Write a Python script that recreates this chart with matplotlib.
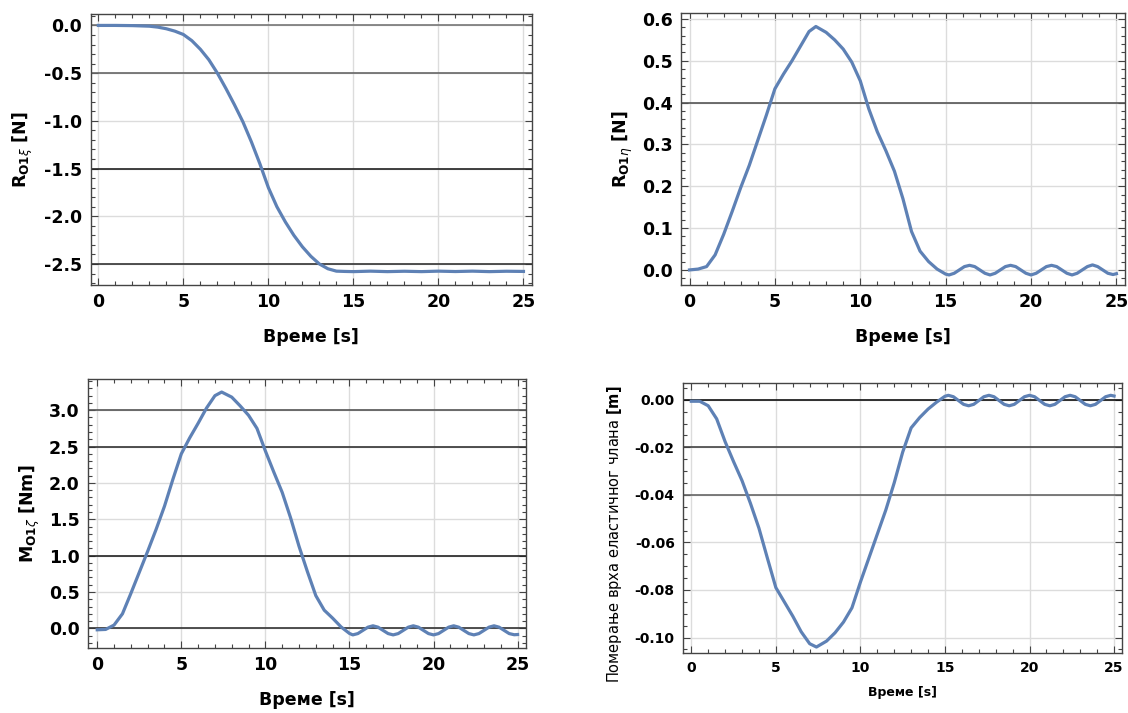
import matplotlib
matplotlib.use("Agg")
import matplotlib.pyplot as plt
from matplotlib.ticker import MultipleLocator

plt.rcParams["font.family"] = ["DejaVu Sans"]
plt.rcParams["mathtext.fontset"] = "dejavusans"

# Data
t_r_xi = [0, 1, 2, 3, 3.5, 4, 4.5, 5, 5.5, 6, 6.5, 7, 7.5, 8, 8.5, 9, 9.5, 10,
          10.5, 11, 11.5, 12, 12.5, 13, 13.5, 14, 14.5, 15, 16, 17, 18, 19, 20,
          21, 22, 23, 24, 25]
r_xi = [0, 0, -0.002, -0.008, -0.018, -0.035, -0.06, -0.095, -0.16, -0.25, -0.36,
        -0.5, -0.66, -0.83, -1.01, -1.22, -1.45, -1.7, -1.9, -2.06, -2.2, -2.32,
        -2.42, -2.5, -2.55, -2.575, -2.578, -2.58, -2.575, -2.58, -2.576, -2.58,
        -2.575, -2.579, -2.575, -2.58, -2.576, -2.578]

# common time grid for the late oscillations
t_osc = [15.2, 15.5, 15.8, 16.1, 16.4, 16.7, 17.0, 17.3, 17.6, 17.9, 18.2, 18.5,
         18.8, 19.1, 19.4, 19.7, 20.0, 20.3, 20.6, 20.9, 21.2, 21.5, 21.8, 22.1,
         22.4, 22.7, 23.0, 23.3, 23.6, 23.9, 24.2, 24.5, 24.8, 25.0]

t_head = [0, 0.5, 1, 1.5, 2, 2.5, 3, 3.5, 4, 4.5, 5, 5.5, 6, 6.5, 7, 7.4, 8, 8.5,
          9, 9.5, 10, 10.5, 11, 11.5, 12, 12.5, 13, 13.5, 14, 14.5, 15]

r_eta_head = [0, 0.002, 0.008, 0.036, 0.085, 0.14, 0.197, 0.25, 0.31, 0.37, 0.433,
              0.468, 0.5, 0.535, 0.57, 0.582, 0.568, 0.55, 0.528, 0.497, 0.452, 0.385,
              0.33, 0.285, 0.236, 0.17, 0.092, 0.045, 0.02, 0.002, -0.01]
r_eta_tail = [-0.012, -0.008, 0.0, 0.008, 0.011, 0.008, 0.0, -0.008, -0.012, -0.008,
              0.0, 0.008, 0.011, 0.008, 0.0, -0.008, -0.012, -0.008, 0.0, 0.008,
              0.011, 0.008, 0.0, -0.008, -0.012, -0.008, 0.0, 0.008, 0.012, 0.008,
              0.0, -0.008, -0.011, -0.009]

m_zeta_head = [-0.02, -0.015, 0.045, 0.2, 0.48, 0.77, 1.06, 1.36, 1.68, 2.05, 2.4,
               2.62, 2.82, 3.03, 3.2, 3.25, 3.18, 3.06, 2.93, 2.75, 2.44, 2.15, 1.87,
               1.52, 1.13, 0.78, 0.45, 0.25, 0.14, 0.02, -0.07]
m_zeta_tail = [-0.09, -0.072, -0.028, 0.016, 0.035, 0.016, -0.028, -0.072, -0.09,
               -0.072, -0.028, 0.016, 0.035, 0.016, -0.028, -0.072, -0.09, -0.072,
               -0.028, 0.016, 0.035, 0.016, -0.028, -0.072, -0.09, -0.072, -0.028,
               0.016, 0.035, 0.016, -0.028, -0.072, -0.088, -0.085]

disp_head = [-0.0006, -0.0006, -0.0025, -0.008, -0.0176, -0.026, -0.034, -0.0436,
             -0.054, -0.0666, -0.079, -0.085, -0.091, -0.0976, -0.1026, -0.104,
             -0.1015, -0.098, -0.0935, -0.0875, -0.0767, -0.0666, -0.0565, -0.0464,
             -0.0349, -0.022, -0.0118, -0.0075, -0.0039, -0.001, 0.0015]
disp_tail = [0.0019, 0.0013, -0.0003, -0.0019, -0.0025, -0.0019, -0.0003, 0.0013,
             0.0019, 0.0013, -0.0003, -0.0019, -0.0025, -0.0019, -0.0003, 0.0013,
             0.0019, 0.0013, -0.0003, -0.0019, -0.0025, -0.0019, -0.0003, 0.0013,
             0.0019, 0.0013, -0.0003, -0.0019, -0.0025, -0.0019, -0.0003, 0.0013,
             0.0019, 0.0016]

line_color = "#5E81B5"
frame_color = "#444444"
grid_color = "#DCDCDC"


def style_axes(ax, xlim, ylim, yticks, yminor, tick_size, fmt):
    ax.set_xlim(*xlim)
    ax.set_ylim(*ylim)
    ax.set_xticks([0, 5, 10, 15, 20, 25])
    ax.set_yticks(yticks)
    ax.set_yticklabels([fmt.format(v) for v in yticks])
    ax.xaxis.set_minor_locator(MultipleLocator(1))
    ax.yaxis.set_minor_locator(MultipleLocator(yminor))
    ax.tick_params(which="both", direction="in", top=True, right=True,
                   colors=frame_color, labelcolor="black", labelsize=tick_size,
                   width=0.8)
    ax.tick_params(which="major", length=5, pad=6)
    ax.tick_params(which="minor", length=3)
    for lab in ax.get_xticklabels() + ax.get_yticklabels():
        lab.set_fontweight("bold")
    for sp in ax.spines.values():
        sp.set_color(frame_color)
        sp.set_linewidth(1.0)
    ax.grid(True, which="major", color=grid_color, linewidth=1.0)
    ax.set_axisbelow(True)


def dark_lines(ax, levels, colors):
    for lv, c in zip(levels, colors):
        ax.axhline(lv, color=c, linewidth=1.2, zorder=1.5)


fig = plt.figure(figsize=(11.28, 7.13), dpi=100)

# top left
ax1 = fig.add_axes([0.0804, 0.6003, 0.3912, 0.3801])
style_axes(ax1, (-0.45, 25.5), (-2.72, 0.12), [0.0, -0.5, -1.0, -1.5, -2.0, -2.5],
           0.1, 12.5, "{:.1f}")
dark_lines(ax1, [0.0, -0.5, -1.5, -2.5], ["#777777", "#666666", "#222222", "#333333"])
ax1.plot(t_r_xi, r_xi, color=line_color, linewidth=2.3, zorder=3)
ax1.set_xlabel("Време [s]", fontsize=12.5, fontweight="bold", labelpad=12)
ax1.set_ylabel(r"R$_{\mathbf{O1}\xi}$ [N]", fontsize=12.5, fontweight="bold", labelpad=7)

# top right
ax2 = fig.add_axes([0.6037, 0.6003, 0.3936, 0.3819])
style_axes(ax2, (-0.5, 25.5), (-0.036, 0.615), [0.0, 0.1, 0.2, 0.3, 0.4, 0.5, 0.6],
           0.02, 12.5, "{:.1f}")
dark_lines(ax2, [0.4], ["#555555"])
ax2.plot(t_head + t_osc, r_eta_head + r_eta_tail, color=line_color, linewidth=2.3, zorder=3)
ax2.set_xlabel("Време [s]", fontsize=12.5, fontweight="bold", labelpad=12)
ax2.set_ylabel(r"R$_{\mathbf{O1}\eta}$ [N]", fontsize=12.5, fontweight="bold", labelpad=5)

# bottom left
ax3 = fig.add_axes([0.078, 0.0912, 0.3883, 0.3773])
style_axes(ax3, (-0.55, 25.5), (-0.27, 3.43), [0.0, 0.5, 1.0, 1.5, 2.0, 2.5, 3.0],
           0.1, 12.5, "{:.1f}")
dark_lines(ax3, [3.0, 2.5, 1.0, 0.0], ["#555555", "#333333", "#222222", "#333333"])
ax3.plot(t_head + t_osc, m_zeta_head + m_zeta_tail, color=line_color, linewidth=2.3, zorder=3)
ax3.set_xlabel("Време [s]", fontsize=12.5, fontweight="bold", labelpad=12)
ax3.set_ylabel(r"M$_{\mathbf{O1}\zeta}$ [Nm]", fontsize=12.5, fontweight="bold", labelpad=5)

# bottom right
ax4 = fig.add_axes([0.6055, 0.0842, 0.3892, 0.3787])
style_axes(ax4, (-0.49, 25.47), (-0.1065, 0.0071),
           [0.0, -0.02, -0.04, -0.06, -0.08, -0.10], 0.005, 10, "{:.2f}")
dark_lines(ax4, [0.0, -0.02, -0.04], ["#111111", "#444444", "#666666"])
ax4.plot(t_head + t_osc, disp_head + disp_tail, color=line_color, linewidth=2.3, zorder=3)
ax4.set_xlabel("Време [s]", fontsize=9, fontweight="bold", labelpad=8)
ax4.set_ylabel(r"Померање врха еластичног члана $\mathbf{[m]}$", fontsize=10.5)
ax4.yaxis.set_label_coords(-0.135, 0.44)

fig.savefig("out.png", dpi=100)
